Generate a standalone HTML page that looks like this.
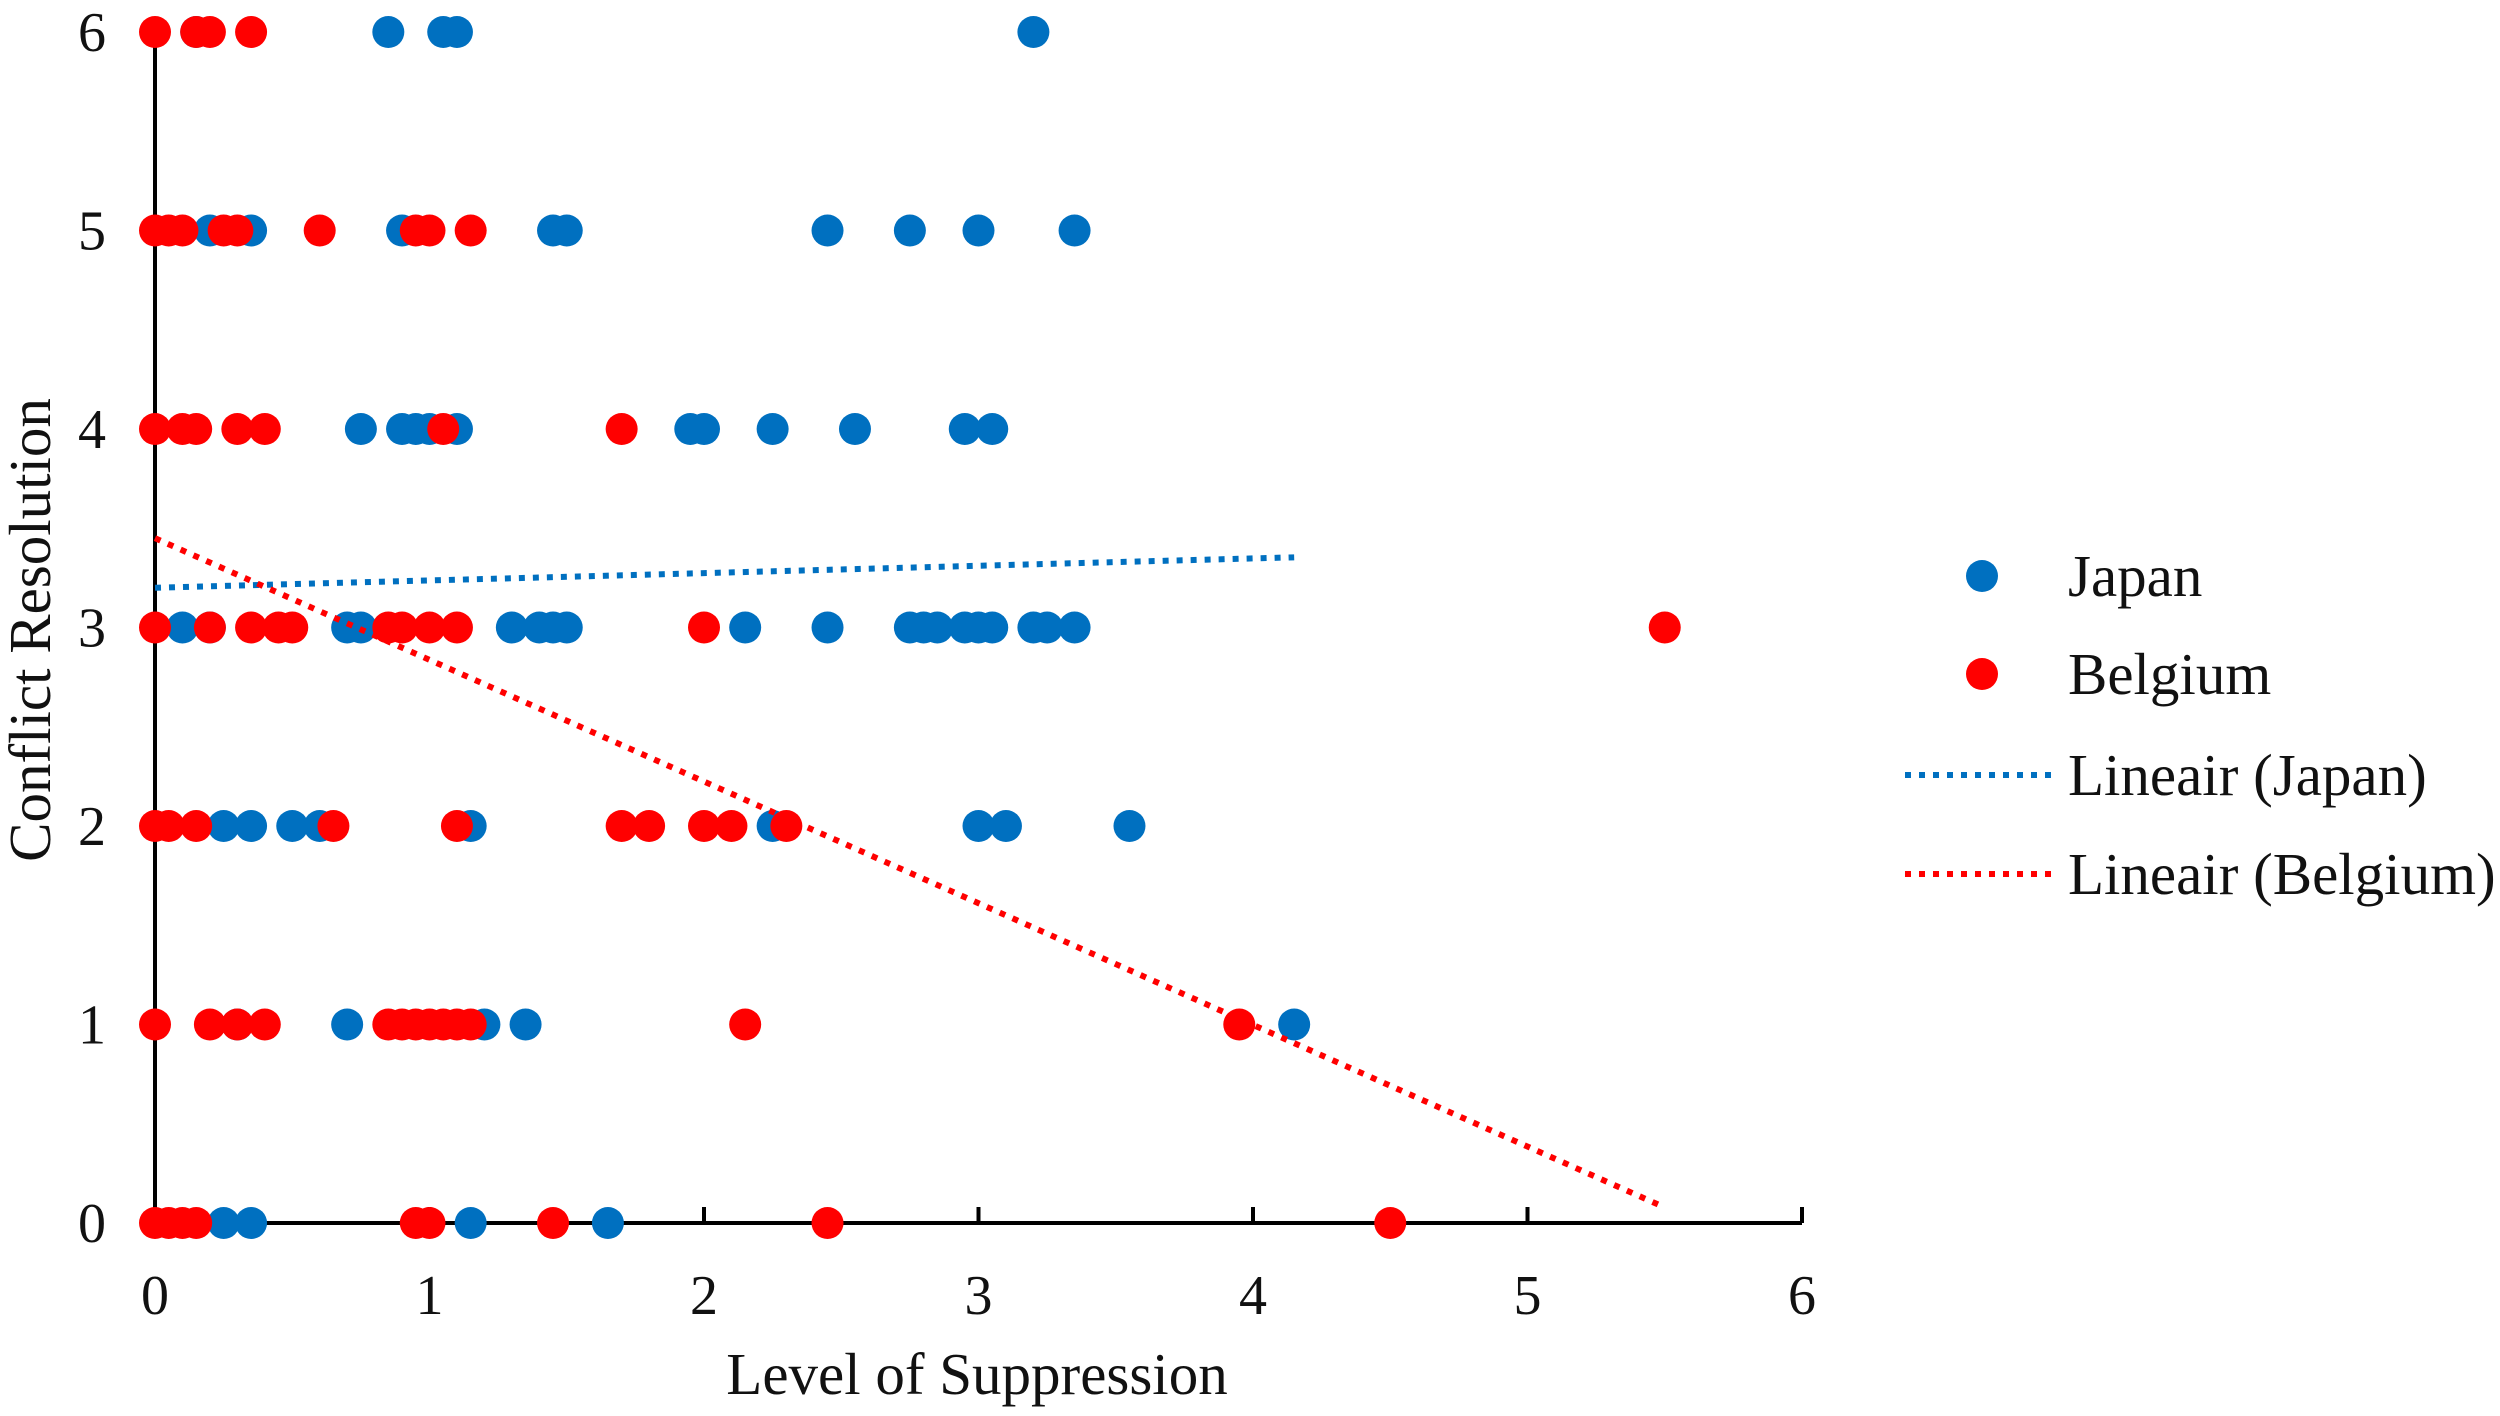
<!DOCTYPE html>
<html><head><meta charset="utf-8"><style>
html,body{margin:0;padding:0;background:#fff}
svg{display:block}
text{font-family:"Liberation Serif",serif;fill:#111}
</style></head><body>
<svg id="chart" width="2500" height="1416" viewBox="0 0 2500 1416" xmlns="http://www.w3.org/2000/svg">
<g id="axes"></g>
<g id="points"></g>
<g id="trends"></g>
<text x="977" y="1394" font-size="59" text-anchor="middle">Level of Suppression</text>
<text transform="translate(50,630) rotate(-90)" font-size="59" text-anchor="middle">Conflict Resolution</text>
<g id="legend">
  <g><circle cx="1982" cy="576" r="16" fill="#0070C0"/><text x="2068" y="596" font-size="59">Japan</text></g>
  <g><circle cx="1982" cy="674" r="16" fill="#FF0000"/><text x="2068" y="694" font-size="59">Belgium</text></g>
  <g><line x1="1905" y1="775" x2="2058" y2="775" stroke="#0070C0" stroke-width="6" stroke-dasharray="6 8"/><text x="2068" y="795" font-size="59">Lineair (Japan)</text></g>
  <g><line x1="1905" y1="874" x2="2058" y2="874" stroke="#FF0000" stroke-width="6" stroke-dasharray="6 8"/><text x="2068" y="894" font-size="59">Lineair (Belgium)</text></g>
</g>
</svg>
<script>
const xTicks=[0,1,2,3,4,5,6];
const yTicks=[0,1,2,3,4,5,6];
const japanX=[0.15,0.85,1.05,1.1,3.2, 0.2,0.35,0.9,1.45,1.5,2.45,2.75,3.0,3.35, 0.75,0.9,0.95,1.0,1.1,1.95,2.0,2.25,2.55,2.95,3.05, 0.1,0.2,0.7,0.75,1.3,1.4,1.45,1.5,2.15,2.45,2.75,2.8,2.85,2.95,3.0,3.05,3.2,3.25,3.35, 0.25,0.35,0.5,0.6,1.15,2.25,3.0,3.1,3.55, 0.3,0.7,1.2,1.35,4.15, 0.25,0.35,1.15,1.65];
const japanY=[6,6,6,6,6, 5,5,5,5,5,5,5,5,5, 4,4,4,4,4,4,4,4,4,4,4, 3,3,3,3,3,3,3,3,3,3,3,3,3,3,3,3,3,3,3, 2,2,2,2,2,2,2,2,2, 1,1,1,1,1, 0,0,0,0];
const belgiumX=[0,0.15,0.2,0.35, 0,0.05,0.1,0.25,0.3,0.6,0.95,1.0,1.15, 0,0.1,0.15,0.3,0.4,1.05,1.7, 0,0.2,0.35,0.45,0.5,0.85,0.9,1.0,1.1,2.0,5.5, 0,0.05,0.15,0.65,1.1,1.7,1.8,2.0,2.1,2.3, 0,0.2,0.3,0.4,0.85,0.9,0.95,1.0,1.05,1.1,1.15,2.15,3.95, 0,0.05,0.1,0.15,0.95,1.0,1.45,2.45,4.5];
const belgiumY=[6,6,6,6, 5,5,5,5,5,5,5,5,5, 4,4,4,4,4,4,4, 3,3,3,3,3,3,3,3,3,3,3, 2,2,2,2,2,2,2,2,2,2, 1,1,1,1,1,1,1,1,1,1,1,1,1, 0,0,0,0,0,0,0,0,0];
const trendJapan=[3.2,0.037];   // intercept, slope
const trendBelgium=[3.45,-0.613];
const trendJapanRange=[0,4.15];
const trendBelgiumRange=[0,5.5];

const NS='http://www.w3.org/2000/svg';
const X0=155,XU=274.5,Y0=1223,YU=198.5;
const sx=v=>X0+v*XU, sy=v=>Y0-v*YU;
function mk(tag,attrs,parent){const e=document.createElementNS(NS,tag);for(const k in attrs)e.setAttribute(k,attrs[k]);parent.appendChild(e);return e;}
const axes=document.getElementById('axes');
let a=mk('line',{x1:sx(0),y1:sy(6),x2:sx(0),y2:sy(0),stroke:'#000','stroke-width':4},axes);


a=mk('line',{x1:sx(0)-2,y1:sy(0),x2:sx(6),y2:sy(0),stroke:'#000','stroke-width':4},axes);


xTicks.forEach(t=>{
  const l=mk('line',{x1:sx(t),y1:sy(0),x2:sx(t),y2:sy(0)-16,stroke:'#000','stroke-width':4},axes);
  
  
  const tx=mk('text',{x:sx(t),y:1314,'font-size':56,'text-anchor':'middle'},axes);tx.textContent=t;
  
  
});
yTicks.forEach(t=>{
  const tx=mk('text',{x:92,y:sy(t)+19,'font-size':56,'text-anchor':'middle'},axes);tx.textContent=t;
  
  
});
const pts=document.getElementById('points');
japanX.forEach((x,i)=>{
  const c=mk('circle',{cx:sx(x),cy:sy(japanY[i]),r:16,fill:'#0070C0'},pts);
  
  
});
belgiumX.forEach((x,i)=>{
  const c=mk('circle',{cx:sx(x),cy:sy(belgiumY[i]),r:16,fill:'#FF0000'},pts);
  
  
});
const tr=document.getElementById('trends');
function trend(p,rng,col,name){
  const l=mk('line',{x1:sx(rng[0]),y1:sy(p[0]+p[1]*rng[0]),x2:sx(rng[1]),y2:sy(p[0]+p[1]*rng[1]),stroke:col,'stroke-width':6,'stroke-dasharray':'6 8'},tr);
  
  
}
trend(trendJapan,trendJapanRange,'#0070C0','trend-line-japan');
trend(trendBelgium,trendBelgiumRange,'#FF0000','trend-line-belgium');
</script>
</body></html>
